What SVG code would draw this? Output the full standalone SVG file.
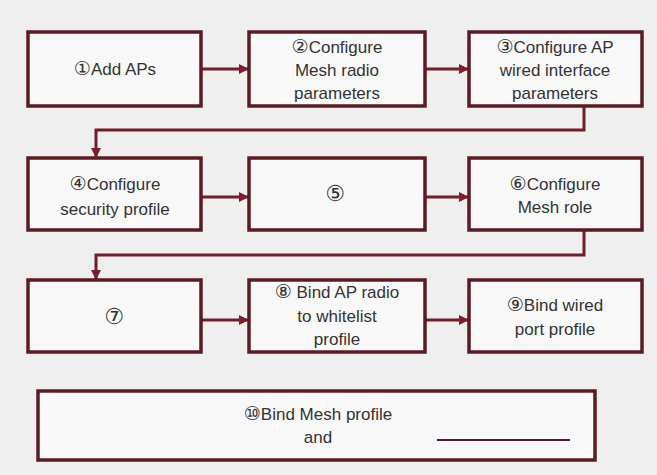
<svg xmlns="http://www.w3.org/2000/svg" width="657" height="475" viewBox="0 0 657 475">
<defs>
<marker id="ah" markerWidth="10" markerHeight="10" refX="9" refY="5" orient="auto" markerUnits="userSpaceOnUse">
<path d="M0,0 L10,5 L0,10 Z" fill="#7a1f2b"/>
</marker>
<style>
.box{fill:#f8f8f8;stroke:#5a1c24;stroke-width:3.5}
.con{fill:none;stroke:#6e1e2a;stroke-width:3;marker-end:url(#ah)}
text{font-family:"Liberation Sans","DejaVu Sans",sans-serif;font-size:17px;fill:#333;text-anchor:middle}
.big{font-size:22px}
.num{font-size:19px}
</style>
</defs>
<rect width="657" height="475" fill="#efefef"/>
<g id="connectors">
<path class="con" d="M201,69 H248"/>
<path class="con" d="M425,69 H468"/>
<path class="con" d="M584,106 V130 H96 V157"/>
<path class="con" d="M201,197 H248"/>
<path class="con" d="M425,197 H468"/>
<path class="con" d="M584,230 V255 H96 V279"/>
<path class="con" d="M201,320 H248"/>
<path class="con" d="M425,320 H468"/>
</g>
<g id="n1"><rect class="box" x="28" y="32" width="173" height="74"/><text x="115" y="75"><tspan class="num">①</tspan>Add APs</text></g>
<g id="n2"><rect class="box" x="249" y="32" width="176" height="74"/><text x="337" y="53"><tspan class="num">②</tspan>Configure</text><text x="337" y="76">Mesh radio</text><text x="337" y="99">parameters</text></g>
<g id="n3"><rect class="box" x="469" y="32" width="173" height="74"/><text x="555" y="53"><tspan class="num">③</tspan>Configure AP</text><text x="555" y="76">wired interface</text><text x="555" y="99">parameters</text></g>
<g id="n4"><rect class="box" x="28" y="158" width="173" height="72"/><text x="115" y="190"><tspan class="num">④</tspan>Configure</text><text x="115" y="215">security profile</text></g>
<g id="n5"><rect class="box" x="249" y="158" width="176" height="72"/><text class="big" x="335" y="201">⑤</text></g>
<g id="n6"><rect class="box" x="469" y="158" width="173" height="72"/><text x="555" y="190"><tspan class="num">⑥</tspan>Configure</text><text x="555" y="213">Mesh role</text></g>
<g id="n7"><rect class="box" x="28" y="280" width="173" height="72"/><text class="big" x="114" y="324">⑦</text></g>
<g id="n8"><rect class="box" x="249" y="280" width="176" height="72"/><text x="337" y="298"><tspan class="num">⑧</tspan> Bind AP radio</text><text x="337" y="322">to whitelist</text><text x="337" y="345">profile</text></g>
<g id="n9"><rect class="box" x="469" y="280" width="173" height="72"/><text x="555" y="311"><tspan class="num">⑨</tspan>Bind wired</text><text x="555" y="335">port profile</text></g>
<g id="n10"><rect class="box" x="38" y="391" width="557" height="69"/><text x="318" y="420"><tspan class="num">⑩</tspan>Bind Mesh profile</text><text x="318" y="443">and</text><line x1="437" y1="440" x2="570" y2="440" stroke="#5a1c24" stroke-width="2"/></g>
</svg>
